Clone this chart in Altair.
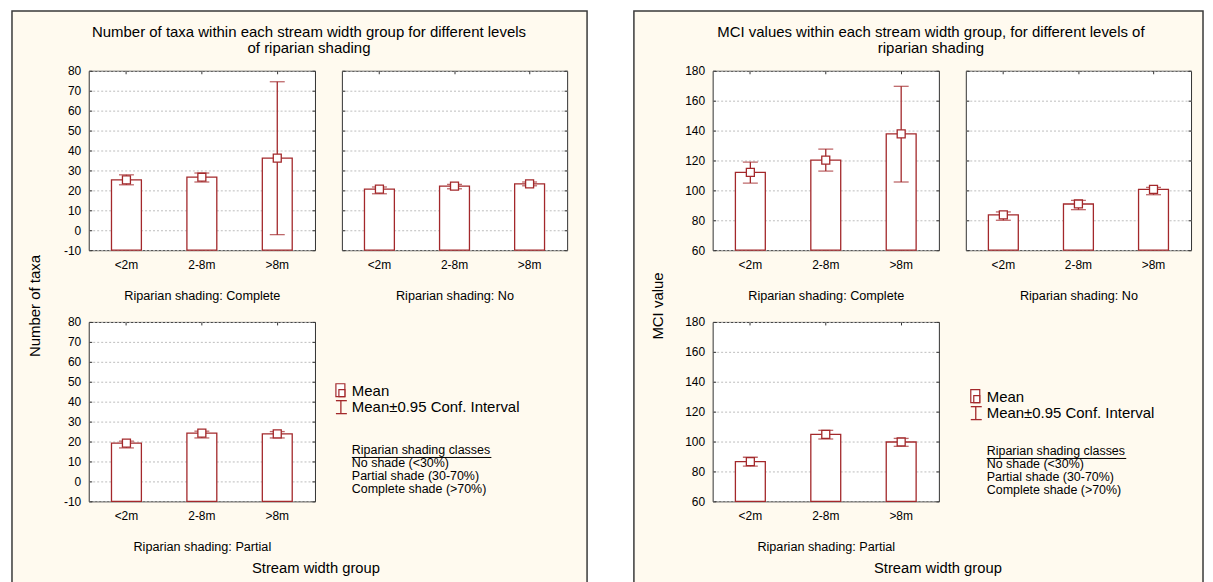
import altair as alt
import pandas as pd

# ---------------- data ----------------
widths = ["<2m", "2-8m", ">8m"]

# Number of taxa
taxa_complete_mean = [25.3, 26.6, 36.2]
taxa_complete_lo = [22.8, 24.2, -2.2]
taxa_complete_hi = [27.8, 28.7, 74.5]

taxa_no_mean = [20.6, 22.1, 23.3]
taxa_no_lo = [18.3, 20.8, 22.3]
taxa_no_hi = [21.7, 23.0, 24.2]

taxa_partial_mean = [19.2, 24.2, 23.8]
taxa_partial_lo = [16.8, 21.8, 21.8]
taxa_partial_hi = [20.2, 25.2, 25.0]

# MCI value
mci_complete_mean = [112.0, 120.2, 137.8]
mci_complete_lo = [104.9, 112.9, 105.6]
mci_complete_hi = [118.9, 127.6, 169.6]

mci_no_mean = [83.6, 90.9, 100.7]
mci_no_lo = [80.0, 87.1, 97.1]
mci_no_hi = [85.6, 93.3, 102.0]

mci_partial_mean = [86.6, 104.8, 99.7]
mci_partial_lo = [83.5, 101.7, 96.8]
mci_partial_hi = [89.5, 107.5, 102.1]

taxa_domain = [-10, 80]
taxa_step = 10
mci_domain = [60, 180]
mci_step = 20

titles_taxa = ["Number of taxa within each stream width group for different levels",
               "of riparian shading"]
titles_mci = ["MCI values within each stream width group, for different levels of",
              "riparian shading"]
legend_lines = ["No shade (<30%)", "Partial shade (30-70%)", "Complete shade (>70%)"]

RED = "#A3282B"
CREAM = "#FFFAEF"
FONT = "Liberation Sans"
CLEAR = alt.ViewBackground(stroke="transparent", fill="transparent")
one = pd.DataFrame({"k": [0]})


def subplot(mean, lo, hi, domain, step, label, w, ylabels=True):
    df = pd.DataFrame({"width": widths, "mean": mean, "lo": lo, "hi": hi,
                       "base": [domain[0]] * 3})
    tick_vals = list(range(domain[0], domain[1] + 1, step))
    xscale = alt.Scale(paddingInner=0, paddingOuter=0)
    yscale = alt.Scale(domain=domain, nice=False, zero=False)
    xaxis = alt.Axis(title=label, labelAngle=0, domain=False, tickSize=3, offset=-3,
                     tickColor="#333333", labelPadding=9, titlePadding=19,
                     labelFontSize=12, titleFontSize=12.7, titleFontWeight="normal",
                     labelColor="black", titleColor="black", grid=False)
    yaxis = alt.Axis(title=None, values=tick_vals,
                     grid=True, gridDash=[2, 2], gridColor="#BDBDBD", domain=False,
                     tickSize=3, offset=-3, tickColor="#333333", labelPadding=8,
                     labels=ylabels, labelExpr="'' + datum.value",
                     labelFontSize=12, labelColor="black")
    xtop = alt.Axis(orient="top", title=None, labels=False, domain=False, grid=False,
                    tickSize=3, offset=-3, tickColor="#333333")
    yright = alt.Axis(orient="right", title=None, labels=False, domain=False, grid=False,
                      values=tick_vals, tickSize=3, offset=-3, tickColor="#333333")
    xs = alt.X("width:N", sort=widths, scale=xscale, axis=None)
    base = alt.Chart(df)
    bars = base.mark_bar(size=30, fill="white", stroke=RED, strokeWidth=1.3).encode(
        x=alt.X("width:N", sort=widths, scale=xscale, axis=xaxis),
        y=alt.Y("mean:Q", scale=yscale, axis=yaxis), y2="base:Q")
    mirror = base.mark_point(opacity=0).encode(
        x=alt.X("width:N", sort=widths, scale=xscale, axis=xtop),
        y=alt.Y("mean:Q", scale=yscale, axis=yright))
    rule = base.mark_rule(color=RED, strokeWidth=1.3).encode(
        x=xs, y=alt.Y("lo:Q", scale=yscale, axis=None), y2="hi:Q")
    cap_lo = base.mark_tick(color=RED, size=15, thickness=1.3).encode(
        x=xs, y=alt.Y("lo:Q", scale=yscale, axis=None))
    cap_hi = base.mark_tick(color=RED, size=15, thickness=1.3).encode(
        x=xs, y=alt.Y("hi:Q", scale=yscale, axis=None))
    sq = base.mark_square(size=64, fill="white", stroke=RED, strokeWidth=1.3,
                          opacity=1).encode(
        x=xs, y=alt.Y("mean:Q", scale=yscale, axis=None))
    return alt.layer(bars, mirror, rule, cap_lo, cap_hi, sq).resolve_axis(
        x="independent", y="independent").properties(width=w, height=180)


def frame_cell(w, x0, pw, lines, ytitle, cx, xtx, ytx):
    """Pad cell left of the top-left plot; also carries the panel background,
    border and panel-level titles (drawn outside its own view)."""
    base = alt.Chart(one)
    bg = base.mark_rect(fill=CREAM, stroke="#3a3a3a", strokeWidth=1.5).encode(
        x=alt.value(x0), x2=alt.value(x0 + pw), y=alt.value(-60), y2=alt.value(525))
    t1 = base.mark_text(text=lines[0], fontSize=15, align="center", baseline="middle",
                        color="black").encode(x=alt.value(cx), y=alt.value(-39))
    t2 = base.mark_text(text=lines[1], fontSize=15, align="center", baseline="middle",
                        color="black").encode(x=alt.value(cx), y=alt.value(-23))
    xt = base.mark_text(text="Stream width group", fontSize=14.8, align="center",
                        baseline="middle", color="black").encode(
        x=alt.value(xtx), y=alt.value(500))
    yt = base.mark_text(text=ytitle, fontSize=15, align="center", baseline="middle",
                        angle=270, color="black").encode(
        x=alt.value(ytx), y=alt.value(236))
    return alt.layer(bg, t1, t2, xt, yt).properties(width=w, height=180, view=CLEAR)


def pad(w):
    return alt.Chart(one).mark_point(opacity=0).encode(
        x=alt.value(0), y=alt.value(0)).properties(width=w, height=180, view=CLEAR)


def legend(icx, tx, ym, yc, yk):
    base = alt.Chart(one)
    layers = []
    layers.append(base.mark_rect(fill="white", stroke=RED, strokeWidth=1.2).encode(
        x=alt.value(icx - 5), x2=alt.value(icx + 4), y=alt.value(ym - 7), y2=alt.value(ym + 6)))
    layers.append(base.mark_rect(fill="white", stroke=RED, strokeWidth=1.2).encode(
        x=alt.value(icx - 2), x2=alt.value(icx + 4), y=alt.value(ym - 1), y2=alt.value(ym + 6)))
    layers.append(base.mark_rule(color=RED, strokeWidth=1.3).encode(
        x=alt.value(icx), y=alt.value(yc - 6), y2=alt.value(yc + 7)))
    layers.append(base.mark_rule(color=RED, strokeWidth=1.3).encode(
        x=alt.value(icx - 5), x2=alt.value(icx + 6), y=alt.value(yc - 6)))
    layers.append(base.mark_rule(color=RED, strokeWidth=1.3).encode(
        x=alt.value(icx - 5), x2=alt.value(icx + 6), y=alt.value(yc + 7)))
    layers.append(base.mark_text(text="Mean", fontSize=15, align="left",
                                 baseline="middle", color="black").encode(
        x=alt.value(tx), y=alt.value(ym)))
    layers.append(base.mark_text(text="Mean\u00b10.95 Conf. Interval", fontSize=15,
                                 align="left", baseline="middle", color="black").encode(
        x=alt.value(tx), y=alt.value(yc)))
    layers.append(base.mark_text(text="Riparian shading classes", fontSize=12.5,
                                 align="left", baseline="middle", color="black").encode(
        x=alt.value(tx), y=alt.value(yk)))
    layers.append(base.mark_rule(color="black", strokeWidth=1).encode(
        x=alt.value(tx), x2=alt.value(tx + 140), y=alt.value(yk + 7)))
    for i, line in enumerate(legend_lines):
        layers.append(base.mark_text(text=line, fontSize=12.5, align="left",
                                     baseline="middle", color="black").encode(
            x=alt.value(tx), y=alt.value(yk + 13 * (i + 1))))
    return alt.layer(*layers).properties(width=226, height=180, view=CLEAR)


def sub3(data, domain, step):
    (cm, cl, ch), (nm, nl, nh), (pm, pl, ph) = data
    return (subplot(cm, cl, ch, domain, step, "Riparian shading: Complete", 227),
            subplot(nm, nl, nh, domain, step, "Riparian shading: No", 226, ylabels=False),
            subplot(pm, pl, ph, domain, step, "Riparian shading: Partial", 227))


taxa_data = [(taxa_complete_mean, taxa_complete_lo, taxa_complete_hi),
             (taxa_no_mean, taxa_no_lo, taxa_no_hi),
             (taxa_partial_mean, taxa_partial_lo, taxa_partial_hi)]
mci_data = [(mci_complete_mean, mci_complete_lo, mci_complete_hi),
            (mci_no_mean, mci_no_lo, mci_no_hi),
            (mci_partial_mean, mci_partial_lo, mci_partial_hi)]

tC, tN, tP = sub3(taxa_data, taxa_domain, taxa_step)
mC, mN, mP = sub3(mci_data, mci_domain, mci_step)

fL = frame_cell(50, 0, 577, titles_taxa, "Number of taxa", 298, 305, 23)
fR = frame_cell(92, 40, 571, titles_mci, "MCI value", 338, 345, 64)

cells = [fL, tC, tN, fR, mC, mN,
         pad(50), tP, legend(-1, 10, 69, 85, 129), pad(92), mP, legend(10, 21, 75, 91, 130)]

chart = alt.concat(*cells, columns=6, spacing={"row": 72, "column": 27},
                   bounds="flush").properties(
    padding=0,
    background="white",
).configure(font=FONT).configure_view(stroke="#333333", strokeWidth=1, fill="white")

chart.save("out.html", embed_options={"renderer": "svg", "actions": False})
